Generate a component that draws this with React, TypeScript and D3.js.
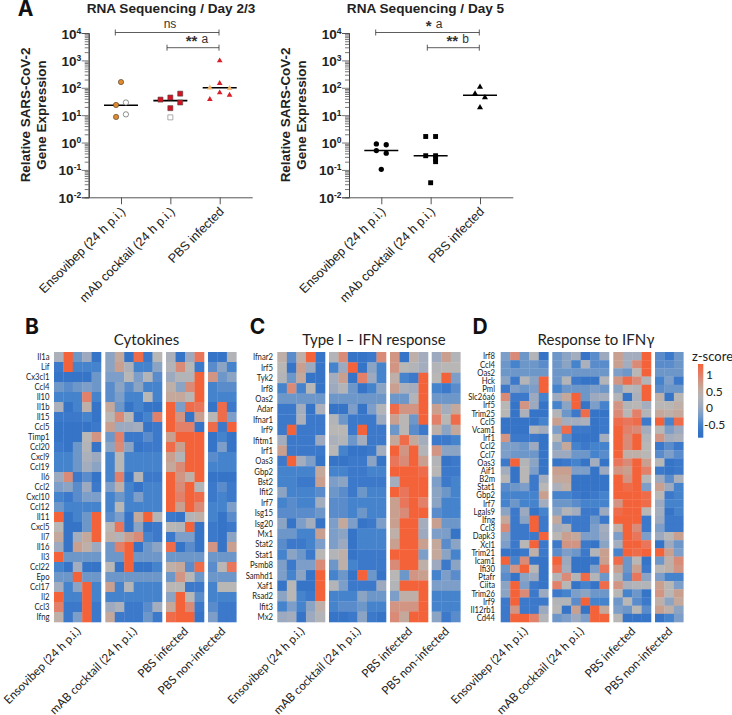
import * as d3 from 'd3';
import { useRef, useEffect } from 'react';

// ---- panel A values ----
const scatterGroups = ['Ensovibep (24 h p.i.)', 'mAb cocktail (24 h p.i.)', 'PBS infected'];

const earlyEnsovibep = [162, 23.5, 8.6, 29, 10.7];
const earlyCocktail = [37, 44, 18, 61, 29, 8.3];
const earlyPbs = [977, 145, 66, 38, 54, 100, 96];
const earlyMedians = [23, 34, 100];
// 0 = coloured dot, 1 = pale dot
const earlyEnsovibepCohort = [0, 0, 0, 1, 1];
const earlyCocktailCohort = [0, 0, 0, 0, 0, 1];
const earlyPbsCohort = [0, 0, 0, 0, 0, 1, 1];

const lateEnsovibep = [0.89, 0.83, 0.51, 0.41, 0.105];
const lateCocktail = [1.66, 1.66, 0.33, 0.33, 0.25, 0.2, 0.034];
const latePbs = [107, 61, 44, 19];
const lateMedians = [0.51, 0.33, 53];

// swarm slots, same order as the values
const earlyEnsovibepSlots = [0, -1, -1, 1, 1];
const earlyCocktailSlots = [-2, 0, 0, 2, 2, 0];
const earlyPbsSlots = [0, 0, 0, -2, 2, -2, 2];
const lateEnsovibepSlots = [-1, 1, -1, 1, 0];
const lateCocktailSlots = [-1, 1, -1, 1, 1, 1, 0];
const latePbsSlots = [0, -1, 1, 0];

const decades = [1e-2, 1e-1, 1e0, 1e1, 1e2, 1e3, 1e4];

// ---- heatmaps: z-score x 10, columns grouped 5 / 6 / 4 / 3 ----
const heatGroups = ['Ensovibep (24 h p.i.)', 'mAB cocktail (24 h p.i.)', 'PBS infected', 'PBS non-infected'];
const groupSizes = [5, 6, 4, 3];

const cytokineGenes = ['Il1a', 'Lif', 'Cx3cl1', 'Ccl4', 'Il10', 'Il1b', 'Il15', 'Ccl5', 'Timp1', 'Ccl20', 'Cxcl9', 'Ccl19', 'Il6', 'Ccl2', 'Cxcl10', 'Ccl12', 'Il11', 'Cxcl5', 'Il7', 'Il16', 'Il3', 'Ccl22', 'Epo', 'Ccl17', 'Il2', 'Ccl3', 'Ifng'];
const cytokineZ = [
    [2, 13, -3, 0, -7, -1, 6, -7, 12, -6, 4, 2, -7, 0, 11, -7, -7, 3],
    [-6, 13, -5, -5, -5, -1, 7, 2, -5, -5, -1, 3, 9, 4, -6, -4, -1, -5],
    [-7, -7, -7, -7, -3, -2, -2, 4, -2, 3, -4, 0, 3, 3, 13, 8, -3, -1],
    [-3, -4, -3, -2, -3, -4, -1, -4, -1, -5, -5, 5, -1, 9, 13, -5, -4, -4],
    [-5, -5, -5, 10, -5, -4, -2, -5, -5, 4, -5, 6, 6, 4, 13, -5, -5, -5],
    [2, -7, -5, 5, -7, 6, -3, -7, -5, -7, -7, 13, -2, 12, 11, -7, 12, -6],
    [-6, -6, -6, -5, -7, 4, 9, 4, -7, -5, 10, 13, 8, -7, 7, 4, 12, -2],
    [-7, -7, -7, -7, -6, 7, 0, 0, 1, -7, -6, 13, 10, 10, -7, 12, -6, 13],
    [-7, -7, -7, 4, 8, -3, 10, -6, -6, -4, -6, 7, 13, 13, 13, -7, -5, -7],
    [-6, -7, -3, 3, -7, -1, 9, -1, -7, -6, -6, 12, 7, 13, 13, -7, -2, -7],
    [-5, -5, -3, 2, 0, -5, 4, -5, -5, -5, -5, 7, 3, 13, 13, -4, -5, -5],
    [-5, -5, -3, 1, -1, -5, 4, -5, -5, -5, -5, 6, 9, 13, 13, -5, -5, -5],
    [0, 9, -6, -4, -7, -5, 10, -7, 3, -6, -6, 13, 8, 5, 13, -7, -7, -7],
    [-2, -1, -4, 0, -6, -2, 5, -5, -7, -5, -5, 13, 9, 13, 3, -6, -4, -6],
    [-5, -6, -4, -2, -2, -5, -3, -5, -2, -5, -5, 13, 10, 13, 12, -6, -5, -6],
    [-3, -5, -5, -5, -5, -5, 4, -5, -5, -5, -5, 13, 7, 13, 9, -5, -5, -2],
    [13, -7, -5, -3, 13, -4, -2, -7, 6, 13, 3, -6, -7, 3, 5, -5, -7, -4],
    [4, -7, -7, -3, 13, 4, 11, -7, -1, -7, -6, 4, 3, 13, -7, -6, -7, -6],
    [6, -7, 1, 6, 13, 5, 3, 7, 9, -5, -6, -6, -2, -2, -7, -6, -7, -1],
    [0, -7, 7, 5, 0, -3, 10, 13, -7, -3, -1, 12, -7, -4, -7, 8, -7, 7],
    [13, -3, -3, -3, -3, -3, -3, 13, -3, -3, -3, -3, -3, -3, -3, -3, -3, -3],
    [-5, -7, 1, -7, -7, 4, -7, 13, -7, -7, -5, 5, 6, -4, 12, -4, 4, 11],
    [-3, -3, 13, -3, -3, -3, -3, -3, -3, -3, -3, -3, 8, 4, -3, -3, -3, -3],
    [1, -5, -1, 13, -5, 7, -5, 3, -5, -5, -5, 4, 4, -6, -6, -5, 4, 4],
    [13, -5, -5, 13, -5, -5, -5, -5, -5, -5, -5, -1, 13, 4, -4, -5, -5, -5],
    [10, -6, -6, 13, -6, 0, 2, -6, -6, -4, 1, 6, 13, 9, -6, -4, -6, -6],
    [5, -6, -2, 13, -6, 6, -6, -6, -6, -3, -6, 12, 13, 13, -7, -2, -6, -6],
];

const ifnGenes = ['Ifnar2', 'Irf5', 'Tyk2', 'Irf8', 'Oas2', 'Adar', 'Ifnar1', 'Irf9', 'Ifitm1', 'Irf1', 'Oas3', 'Gbp2', 'Bst2', 'Ifit2', 'Irf7', 'Isg15', 'Isg20', 'Mx1', 'Stat2', 'Stat1', 'Psmb8', 'Samhd1', 'Xaf1', 'Rsad2', 'Ifit3', 'Mx2'];
const ifnZ = [
    [5, -4, 5, 13, -7, 3, 9, -7, -7, -6, 9, 8, -7, 5, 1, 0, 7, 3],
    [4, -7, 7, 0, -7, -5, 0, 13, -7, -1, -5, 8, 4, 3, 1, 3, 4, 4],
    [3, -3, 6, -7, -7, 1, 7, -7, 10, 0, -5, 5, -5, -6, 13, 4, 13, -2],
    [-5, 9, -5, 4, -7, 0, 3, -3, -7, -5, -1, 7, 2, 1, 13, -5, -6, -4],
    [-3, -3, -3, -3, -3, -3, -3, -3, -3, -3, -3, -3, -3, 3, 13, -3, -3, -3],
    [-6, -6, 1, -7, 2, -7, -7, -2, -7, -2, 3, 12, 8, 8, 13, 7, 1, 6],
    [-6, -6, 2, -6, -6, 3, -3, -6, -6, -6, 0, 7, 4, -3, 13, 10, 4, 12],
    [-6, 13, -6, -6, -6, 4, 4, -6, 13, -6, -6, -3, 4, -4, -6, 5, -1, 6],
    [1, -6, -6, -6, 0, 2, 3, -3, 1, -6, -6, 6, 12, 6, 1, -6, -6, -5],
    [7, -6, -6, -6, -6, 4, -5, -7, -7, -6, 1, 13, 8, 13, 3, 8, -1, -1],
    [-6, 13, 1, -2, -7, -7, -7, -6, -6, -1, -7, 11, 9, 13, 7, 3, -7, -6],
    [-5, -5, -5, -5, 6, -5, -5, -6, -6, -5, -5, 13, 13, 13, 12, 4, -6, -6],
    [-5, -5, -6, -6, 7, -2, -1, -6, -6, -6, -6, 1, 13, 13, 13, -2, -6, -5],
    [-1, -5, -5, -5, -4, -3, -4, -6, -3, -5, -5, 13, 11, 13, 13, -1, -3, -5],
    [-5, -4, -5, -5, 1, -4, -4, -5, -5, -5, -5, 7, 11, 13, 10, -1, -5, -5],
    [-4, -4, -4, -4, -3, -4, -4, -5, -3, -5, -5, 7, 9, 13, 13, -4, -5, -5],
    [-1, -7, -2, 1, -7, -2, 6, -2, -7, -6, -2, 7, 13, 13, 1, 7, -3, -3],
    [-3, -3, -5, -5, 7, -2, -1, -7, -5, -5, -5, 5, 13, 13, 0, -2, -2, -7],
    [-4, -6, -6, -5, -2, -2, 0, -7, -5, -5, -5, 7, 13, 13, 7, 6, -4, -1],
    [-5, -1, -3, -6, 4, 3, 5, -7, -6, -6, -6, 13, 13, 13, -2, 6, -1, -5],
    [-2, -6, -2, -2, 9, -3, 5, -5, -6, -6, -6, 9, 13, 13, 5, 0, -6, -1],
    [-2, -5, -1, -7, 13, -5, -3, -7, 13, -3, -7, 4, -3, 8, 7, -5, -2, -4],
    [-7, 4, -7, -7, 13, 3, -2, -6, -6, -6, 0, 3, 13, 13, 13, -2, -2, -2],
    [-1, 4, -5, -6, 13, -5, -5, -5, -1, -3, -3, -2, 5, 5, 13, -5, -5, -5],
    [-5, -2, -5, -1, 5, -5, -4, -4, -3, -5, -5, 8, 8, 8, 13, -5, -5, -5],
    [0, 1, -7, 0, 3, -7, -7, -6, -1, -6, -7, 9, 6, 13, 13, -1, -6, -4],
];

const gammaGenes = ['Irf8', 'Ccl4', 'Oas2', 'Hck', 'Pml', 'Slc26a6', 'Irf5', 'Trim25', 'Ccl5', 'Vcam1', 'Irf1', 'Ccl2', 'Ccl7', 'Oas3', 'Aif1', 'B2m', 'Stat1', 'Gbp2', 'Irf7', 'Lgals9', 'Ifng', 'Ccl3', 'Dapk3', 'Xcl1', 'Trim21', 'Icam1', 'Ifi30', 'Ptafr', 'Ciita', 'Trim26', 'Irf9', 'Il12rb1', 'Cd44'];
const gammaZ = [
    [-2, 9, -3, 3, -7, -3, -1, 1, -7, -4, 0, 7, 1, 1, 13, -4, -6, -3],
    [-3, -5, -3, -3, -4, -3, -1, -5, 2, -4, -4, 7, 1, 9, 13, -4, -4, -3],
    [-3, -3, -3, -3, -3, -3, -3, -3, -3, -3, -3, -2, -3, 4, 13, -3, -3, -3],
    [-1, -6, 3, -1, 13, -3, 3, -6, -7, -7, 3, 8, 12, 9, 3, -5, -2, -6],
    [-6, -2, -3, -2, 13, -5, -3, -3, -3, -2, -3, -1, 4, 3, 13, -4, -3, -3],
    [9, -6, -6, 0, -5, 0, 6, 13, -3, 0, 1, 3, -7, 2, 13, 5, -7, 4],
    [4, -7, 8, 0, -7, -5, -1, 13, -7, -2, -5, 8, 3, 4, 1, 4, 4, 5],
    [4, -7, 2, -7, -7, 3, -3, -6, 12, -7, -7, 9, 4, 10, 3, 6, 5, 6],
    [-7, -7, -7, -7, -5, 7, 1, 1, 2, -7, -6, 12, 11, 12, -6, 13, -5, 12],
    [-7, -7, -7, 3, 1, -2, 12, -6, -6, -7, -6, 13, 10, 9, 1, 4, -2, 0],
    [8, -6, -6, -6, -7, 4, -4, -7, -7, -7, 1, 13, 9, 13, 3, 8, 1, 2],
    [-2, -2, -3, 0, -7, -1, 6, -5, -6, -5, -5, 13, 9, 13, 4, -6, -4, -6],
    [-2, -3, -3, -3, -7, 0, 0, -3, -3, -5, -4, 13, 5, 5, 4, -4, -2, -4],
    [-6, 13, 3, -1, -7, -7, -6, -5, -7, 1, -7, 11, 9, 13, 7, 4, -7, -6],
    [1, -7, 4, -2, -7, 7, 7, -2, -2, -7, 0, 8, 7, 13, 10, -6, -7, -6],
    [4, -7, 4, -6, 1, 6, 6, -7, -7, -7, -7, 13, 8, 13, 4, 0, -4, 2],
    [-4, -3, -2, -6, 4, 2, 5, -7, -7, -7, -7, 13, 12, 13, -2, 7, 0, -5],
    [-5, -5, -5, -5, 7, -5, -5, -6, -7, -6, -5, 13, 13, 13, 12, 4, -6, -5],
    [-5, -3, -5, -5, 1, -3, -3, -4, -5, -5, -5, 8, 13, 13, 12, 0, -5, -5],
    [-1, -6, 0, -7, -5, -1, 3, 1, -6, -6, 0, 12, 13, 13, 4, 1, -7, -5],
    [6, -6, -1, 13, -6, 6, -6, -6, -6, -3, -6, 13, 13, 13, -6, 0, -6, -6],
    [9, -6, -6, 13, -6, 1, 2, -6, -6, -2, 1, 5, 13, 9, -6, -2, -6, -6],
    [-1, -6, -6, -6, 13, 4, 7, 6, -2, -2, 0, -2, 13, 11, -2, 0, 4, 7],
    [-2, -6, 4, 13, -6, -6, 8, 8, -6, -7, -1, 1, 13, 13, 11, -7, 0, -3],
    [-7, -7, -6, 5, -6, -4, -2, -3, -6, 3, 7, -5, 13, 12, 13, 13, 7, -2],
    [13, -5, 9, -7, -7, 13, 0, -7, -7, -7, 7, 12, -3, 4, -7, -3, 5, 9],
    [-3, 8, 13, 4, -7, 11, 1, -7, -7, -2, 11, 7, -3, 7, -6, 4, 5, 8],
    [-4, -7, -1, 0, -7, 3, 9, 3, 12, 3, -3, 3, -4, 11, -1, -2, -5, -5],
    [-1, 13, -2, -6, -7, 10, 4, -7, -5, -7, 12, 8, 2, 3, 3, 7, 4, -2],
    [-1, 13, 9, -6, 0, -6, -5, -2, -1, -3, -3, 4, -5, -3, -7, 8, 4, 7],
    [-6, 13, -6, -6, -6, 3, 3, -4, 13, -5, -5, -3, 4, -4, -6, 5, -1, 6],
    [-6, 8, -6, -6, 0, 4, -7, 7, -7, 13, 6, -2, -3, 4, -4, 7, 5, -1],
    [-6, 13, 13, 10, 3, -3, -2, 0, -2, 13, 13, 4, -7, -7, -7, -7, -5, -2],
];

const legendTicks = [1, 0.5, 0, -0.5];

const SANS = '"Liberation Sans", Arial, sans-serif';
const LATO = 'Lato, sans-serif';

const heatColor = d3.scaleLinear<string>()
    .domain([-0.8, -0.6, -0.5, -0.4, -0.3, -0.2, 0, 0.4, 0.7, 1.0, 1.3])
    .range(['#2f6fc4', '#3c79ca', '#4583cc', '#5a8ccc', '#6d96c9', '#7c9ec8', '#9ca9bf', '#b9b7b5', '#c9a090', '#e3806a', '#f4623a'])
    .clamp(true);

type Sel = d3.Selection<SVGGElement, unknown, null, undefined>;

interface ScatterSeries { values: number[]; slots: number[]; cohort?: number[]; symbol: d3.SymbolType; size: number; fills: string[]; strokes: string[]; }

function drawScatter(root: Sel, o: {
    left: number; right: number; ticks: number[]; title: string; titleX: number; series: ScatterSeries[]; medians: number[];
    brackets: { from: number; to: number; y: number; stars: string; note: string; labelX: number }[];
}) {
    const top = 33, bottom = 197.3;
    const y = d3.scaleLog().domain([1e-2, 1e4]).range([bottom, top]);
    const step = o.ticks[1] - o.ticks[0];
    const x = d3.scalePoint<string>().domain(scatterGroups).range([o.ticks[0], o.ticks[2]]);
    const g = root.append('g');
    const slotWidth = step / 10;

    g.append('text').attr('x', o.titleX).attr('y', 13).attr('text-anchor', 'middle')
        .attr('font-family', SANS).attr('font-weight', 700).attr('font-size', 13.6).attr('fill', '#222').text(o.title);

    // minor then major ticks
    const minor: number[] = [];
    for (const d of decades.slice(0, -1)) for (let k = 2; k < 10; k++) minor.push(d * k);
    const minorAxis = d3.axisLeft(y).tickValues(minor).tickSize(4).tickFormat(() => '');
    const majorAxis = d3.axisLeft(y).tickValues(decades).tickSize(7).tickFormat(() => '');
    g.append('g').attr('transform', `translate(${o.left},0)`).call(minorAxis);
    const maj = g.append('g').attr('transform', `translate(${o.left},0)`).call(majorAxis);
    g.selectAll('.domain').attr('stroke', '#444');
    g.selectAll('.tick line').attr('stroke', '#555').attr('stroke-width', 0.8);
    maj.selectAll('text').remove();

    decades.forEach(d => {
        const t = g.append('text').attr('x', o.left - 7.5).attr('y', y(d) + 5.5).attr('text-anchor', 'end')
            .attr('font-family', SANS).attr('font-weight', 700).attr('font-size', 13.5).attr('fill', '#222');
        t.append('tspan').text('10');
        t.append('tspan').attr('dy', -5).attr('font-size', 8.5).text(String(Math.round(Math.log10(d))));
    });

    const xAxis = d3.axisBottom(x).tickSize(7).tickFormat(() => '');
    const xg = g.append('g').attr('transform', `translate(0,${bottom})`).call(xAxis);
    xg.select('.domain').attr('d', `M${o.left},0.5H${o.right}`).attr('stroke', '#555');
    xg.selectAll('.tick line').attr('stroke', '#555');

    scatterGroups.forEach(name => {
        g.append('text').attr('transform', `translate(${(x(name) as number) + 5},${bottom + 15}) rotate(-45)`)
            .attr('text-anchor', 'end').attr('font-family', SANS).attr('font-size', 12.6).attr('fill', '#222').text(name);
    });

    // y label
    g.append('text').attr('transform', `translate(${o.left - 59},115) rotate(-90)`).attr('text-anchor', 'middle')
        .attr('font-family', SANS).attr('font-weight', 700).attr('font-size', 13.4).attr('fill', '#222').text('Relative SARS-CoV-2');
    g.append('text').attr('transform', `translate(${o.left - 43},115) rotate(-90)`).attr('text-anchor', 'middle')
        .attr('font-family', SANS).attr('font-weight', 700).attr('font-size', 13.4).attr('fill', '#222').text('Gene Expression');

    o.series.forEach((s, i) => {
        const cx = x(scatterGroups[i]) as number;
        const path = d3.symbol().type(s.symbol).size(s.size);
        g.append('line').attr('x1', cx - 17).attr('x2', cx + 17)
            .attr('y1', y(o.medians[i])).attr('y2', y(o.medians[i]))
            .attr('stroke', '#000').attr('stroke-width', 1.6);
        g.append('g').selectAll('path').data(s.values).enter().append('path')
            .attr('d', path() as string)
            .attr('transform', (d, j) => `translate(${cx + s.slots[j] * slotWidth},${y(d)})`)
            .attr('fill', (_, j) => s.fills[s.cohort ? s.cohort[j] : 0])
            .attr('stroke', (_, j) => s.strokes[s.cohort ? s.cohort[j] : 0])
            .attr('stroke-width', 0.6);
    });

    o.brackets.forEach(b => {
        g.append('path').attr('d', `M${b.from},${b.y - 3}V${b.y + 3}M${b.from},${b.y}H${b.to}M${b.to},${b.y - 3}V${b.y + 3}`)
            .attr('fill', 'none').attr('stroke', '#333').attr('stroke-width', 0.8);
        const t = g.append('text').attr('x', b.labelX).attr('y', b.y - 4.5).attr('text-anchor', 'middle')
            .attr('font-family', SANS).attr('font-size', 12).attr('fill', '#333');
        if (b.stars) t.append('tspan').attr('font-size', 15).attr('font-weight', 700).attr('dy', 3).text(b.stars + ' ');
        t.append('tspan').attr('dy', b.stars ? -3 : 0).text(b.note);
    });
}

function drawHeat(root: Sel, o: {
    title: string; titleX: number; genes: string[]; z: number[][]; ranges: [number, number][]; labelRight: number;
}) {
    const g = root.append('g');
    const y = d3.scaleBand<string>().domain(o.genes.map((d, i) => `${i}-${d}`)).range([352, 622]);
    let offset = 0;
    groupSizes.forEach((size, gi) => {
        const start = offset;
        const cols = d3.range(size);
        const x = d3.scaleBand<number>().domain(cols).range(o.ranges[gi]);
        o.z.forEach((row, ri) => {
            g.append('g').selectAll('rect').data(row.slice(start, start + size)).enter().append('rect')
                .attr('x', (_, c) => x(c) as number)
                .attr('y', y(`${ri}-${o.genes[ri]}`) as number)
                .attr('width', x.bandwidth() + 0.3)
                .attr('height', y.bandwidth() + 0.3)
                .attr('fill', d => heatColor(d / 10));
        });
        offset += size;
        const mid = (o.ranges[gi][0] + o.ranges[gi][1]) / 2;
        g.append('text').attr('transform', `translate(${mid + 4},${632}) rotate(-45)`).attr('text-anchor', 'end')
            .attr('font-family', LATO).attr('font-size', 11.7).attr('fill', '#222').text(heatGroups[gi]);
    });
    o.genes.forEach((name, i) => {
        // the gene labels are squeezed sideways in the original
        g.append('text').attr('transform', `translate(${o.labelRight},${(y(`${i}-${name}`) as number) + y.bandwidth() / 2 + 3.3}) scale(0.82,1)`)
            .attr('text-anchor', 'end').attr('font-family', LATO).attr('font-size', 9.4).attr('fill', '#222').text(name);
    });
    g.append('text').attr('x', o.titleX).attr('y', 345).attr('text-anchor', 'middle')
        .attr('font-family', LATO).attr('font-size', 15).attr('fill', '#222').text(o.title);
}

export default function App() {
    const svgRef = useRef<SVGSVGElement>(null);

    useEffect(() => {
        if (!svgRef.current) return;
        const svg = d3.select(svgRef.current);
        svg.selectAll('*').remove();
        const root = svg.append('g') as unknown as Sel;

        const orange = ['#df8a2e', '#ffffff'];
        const ring = ['#4a3a28', '#444444'];
        const red = ['#d8101f', '#ffffff'];
        const redEdge = ['#444444', '#777777'];
        const tri = ['#d8202a', '#f2b468'];

        drawScatter(root, {
            left: 88.7, right: 252.7, ticks: [121, 170.3, 219.7], title: 'RNA Sequencing / Day 2/3', titleX: 171,
            medians: earlyMedians,
            series: [
                { values: earlyEnsovibep, slots: earlyEnsovibepSlots, cohort: earlyEnsovibepCohort, symbol: d3.symbolCircle, size: 22, fills: orange, strokes: ring },
                { values: earlyCocktail, slots: earlyCocktailSlots, cohort: earlyCocktailCohort, symbol: d3.symbolSquare, size: 25, fills: red, strokes: redEdge },
                { values: earlyPbs, slots: earlyPbsSlots, cohort: earlyPbsCohort, symbol: d3.symbolTriangle, size: 14, fills: tri, strokes: ['none', 'none'] },
            ],
            brackets: [
                { from: 115.3, to: 219, y: 32.5, stars: '', note: 'ns', labelX: 170 },
                { from: 167, to: 219, y: 47.7, stars: '**', note: 'a', labelX: 197 },
            ],
        });
        drawScatter(root, {
            left: 349, right: 513.3, ticks: [381.3, 430.7, 480], title: 'RNA Sequencing / Day 5', titleX: 425.5,
            medians: lateMedians,
            series: [
                { values: lateEnsovibep, slots: lateEnsovibepSlots, symbol: d3.symbolCircle, size: 22, fills: ['#000'], strokes: ['none'] },
                { values: lateCocktail, slots: lateCocktailSlots, symbol: d3.symbolSquare, size: 24, fills: ['#000'], strokes: ['none'] },
                { values: latePbs, slots: latePbsSlots, symbol: d3.symbolTriangle, size: 16, fills: ['#000'], strokes: ['none'] },
            ],
            brackets: [
                { from: 375.7, to: 479.3, y: 32.5, stars: '*', note: 'a', labelX: 434 },
                { from: 427.3, to: 479.3, y: 47.7, stars: '**', note: 'b', labelX: 457.7 },
            ],
        });

        drawHeat(root, { title: 'Cytokines', titleX: 146.5, genes: cytokineGenes, z: cytokineZ, ranges: [[54, 101], [105.3, 162], [166, 204], [208, 236.3]], labelRight: 49.5 });
        drawHeat(root, { title: 'Type I – IFN response', titleX: 374, genes: ifnGenes, z: ifnZ, ranges: [[277.3, 325], [329, 386], [390, 428], [431.7, 460.3]], labelRight: 273 });
        drawHeat(root, { title: 'Response to IFNγ', titleX: 596, genes: gammaGenes, z: gammaZ, ranges: [[500.7, 548.3], [552.3, 609], [613.3, 651], [655, 683.3]], labelRight: 495 });

        // panel letters
        [['A', 25.5, 15.5], ['B', 32, 334], ['C', 257.5, 334], ['D', 480, 334]].forEach(([t, x, y]) => {
            root.append('text').attr('x', x as number).attr('y', y as number).attr('text-anchor', 'middle')
                .attr('font-family', 'Inter, sans-serif').attr('font-weight', 700).attr('font-size', 21).attr('fill', '#111').text(t as string);
        });

        // z-score legend
        const defs = svg.append('defs');
        const lg = defs.append('linearGradient').attr('id', 'zbar').attr('x1', 0).attr('x2', 0).attr('y1', 1).attr('y2', 0);
        const legendY = d3.scaleLinear().domain([-0.9, 1.33]).range([437.7, 364]);
        d3.range(12).forEach(i => {
            const v = -0.9 + (i / 11) * 2.23;
            lg.append('stop').attr('offset', `${(i / 11) * 100}%`).attr('stop-color', heatColor(v));
        });
        root.append('rect').attr('x', 698).attr('y', 364).attr('width', 5.3).attr('height', 73.7).attr('fill', 'url(#zbar)');
        legendTicks.forEach(t => {
            root.append('text').attr('x', t < 0 ? 704 : 706).attr('y', legendY(t) + 4.5)
                .attr('font-family', LATO).attr('font-size', 12).attr('fill', '#222').text(String(t));
        });
        root.append('text').attr('x', 692).attr('y', 361).attr('font-family', LATO).attr('font-size', 13).attr('fill', '#222').text('z-score');
    }, []);

    return <svg ref={svgRef} width={732} height={715} style={{ position: 'absolute', left: 0, top: 0, background: '#fff' }} />;
}
